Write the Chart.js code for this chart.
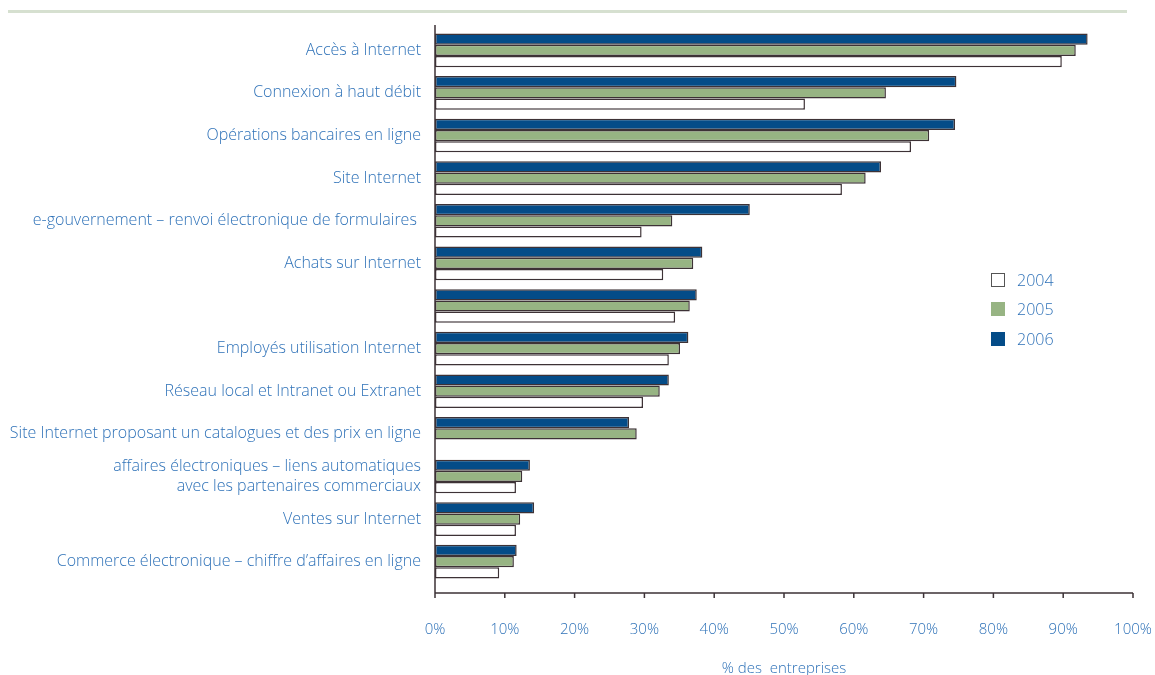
<!DOCTYPE html>
<html>
<head>
<meta charset="utf-8">
<script src="https://cdn.jsdelivr.net/npm/chart.js@4"></script>
<style>
    html, body { margin: 0; padding: 0; background: #ffffff; }
    #wrap { position: relative; width: 1155px; height: 675px; overflow: hidden; }
    #topRule { position: absolute; left: 8px; top: 10px; width: 1119px; height: 3px; background: #d6e0d0; }
    #legend { position: absolute; left: 991px; top: 265px; font-family: "Open Sans", sans-serif; font-weight: 300; font-size: 16px; color: #2f72b8; }
    .item { display: flex; align-items: center; height: 29.5px; }
    .box { width: 14px; height: 14px; box-sizing: border-box; margin-right: 12px; }
</style>
</head>
<body>
<div id="wrap">
    <div id="topRule"></div>
    <canvas id="mainChart" width="1155" height="675"></canvas>
    <div id="legend"></div>
</div>
<script>
// Categories, top to bottom
const categories = [
    "Accès à Internet",
    "Connexion à haut débit",
    "Opérations bancaires en ligne",
    "Site Internet",
    "e-gouvernement – renvoi électronique de formulaires ",
    "Achats sur Internet",
    "",
    "Employés utilisation Internet",
    "Réseau local et Intranet ou Extranet",
    "Site Internet proposant un catalogues et des prix en ligne",
    ["affaires électroniques – liens automatiques", "avec les partenaires commerciaux"],
    "Ventes sur Internet",
    "Commerce électronique – chiffre d’affaires en ligne"
];
const values2006 = [93.5, 74.7, 74.5, 63.9, 45.1, 38.3, 37.5, 36.3, 33.5, 27.8, 13.6, 14.2, 11.7];
const values2005 = [91.8, 64.6, 70.8, 61.7, 34.0, 37.0, 36.5, 35.1, 32.2, 28.9, 12.5, 12.2, 11.3];
const values2004 = [89.8, 53.0, 68.2, 58.3, 29.6, 32.7, 34.4, 33.5, 29.8, null, 11.6, 11.6, 9.2];
const xTicks = [0, 10, 20, 30, 40, 50, 60, 70, 80, 90, 100];

const AXIS_COLOR = "#3d3236";
const TEXT_COLOR = "#2f72b8";
const FONT = "'Open Sans', sans-serif";

const series = [
    { label: "2006", data: values2006, color: "#044c88" },
    { label: "2005", data: values2005, color: "#97b483" },
    { label: "2004", data: values2004, color: "#ffffff" }
];

// Axis lines drawn a bit below the last category, like the original
const axisLines = {
    id: "axisLines",
    afterDatasetsDraw(chart) {
        const ctx = chart.ctx;
        const x = chart.scales.x;
        const area = chart.chartArea;
        const axisY = area.bottom + 10;
        ctx.save();
        ctx.strokeStyle = AXIS_COLOR;
        ctx.lineWidth = 1.5;
        ctx.beginPath();
        ctx.moveTo(x.getPixelForValue(0), area.top - 4);
        ctx.lineTo(x.getPixelForValue(0), axisY + 5);
        ctx.moveTo(x.getPixelForValue(0), axisY);
        ctx.lineTo(x.getPixelForValue(100), axisY);
        xTicks.forEach(v => {
            const px = x.getPixelForValue(v);
            ctx.moveTo(px, axisY);
            ctx.lineTo(px, axisY + 5);
        });
        ctx.stroke();
        ctx.restore();
    }
};

new Chart(document.getElementById("mainChart"), {
    type: "bar",
    data: {
        labels: categories,
        datasets: series.map(s => ({
            label: s.label,
            data: s.data,
            backgroundColor: s.color,
            borderColor: AXIS_COLOR,
            borderWidth: 1.5,
            borderSkipped: false,
            categoryPercentage: 0.79,
            barPercentage: 1
        }))
    },
    options: {
        indexAxis: "y",
        responsive: false,
        animation: false,
        layout: { padding: { top: 29, right: 22, left: 0, bottom: 0 } },
        plugins: {
            legend: { display: false },
            tooltip: { enabled: false }
        },
        scales: {
            x: {
                min: 0,
                max: 100,
                afterBuildTicks: scale => { scale.ticks = xTicks.map(v => ({ value: v })); },
                afterFit: scale => {
                    scale.height = 92;
                    scale.paddingLeft = 0;
                    scale.paddingRight = 0;
                },
                grid: { display: false },
                border: { display: false },
                ticks: {
                    padding: 30,
                    maxRotation: 0,
                    color: TEXT_COLOR,
                    font: { family: FONT, size: 15, weight: 300 },
                    callback: v => v + "%"
                },
                title: {
                    display: true,
                    text: "% des  entreprises",
                    color: TEXT_COLOR,
                    font: { family: FONT, size: 15, weight: 300 },
                    padding: { top: 0, bottom: -3 }
                }
            },
            y: {
                afterFit: scale => { scale.width = 435; },
                grid: { display: false, drawTicks: false },
                border: { display: false },
                ticks: {
                    padding: 14,
                    color: TEXT_COLOR,
                    font: { family: FONT, size: 16, weight: 300 }
                }
            }
        }
    },
    plugins: [axisLines]
});

// Legend, 2004 first
const legend = document.getElementById("legend");
series.slice().reverse().forEach(s => {
    const row = document.createElement("div");
    row.className = "item";
    const box = document.createElement("span");
    box.className = "box";
    box.style.background = s.color;
    if (s.label === "2004") box.style.border = "1.5px solid #555";
    const txt = document.createElement("span");
    txt.textContent = s.label;
    row.appendChild(box);
    row.appendChild(txt);
    legend.appendChild(row);
});
</script>
</body>
</html>
